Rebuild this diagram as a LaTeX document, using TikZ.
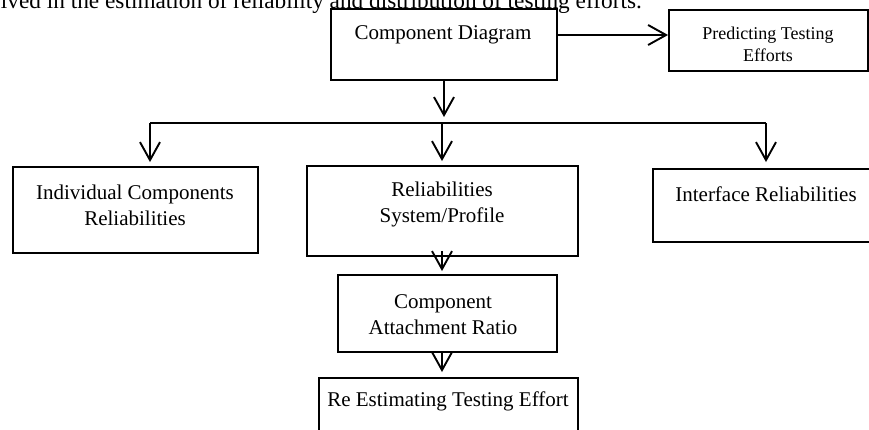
\documentclass[tikz,border=0pt]{standalone}
\usepackage{fontspec}
\setmainfont{Liberation Serif}
\usetikzlibrary{arrows.meta}
\begin{document}
\begin{tikzpicture}[x=1pt,y=-1pt,
  box/.style={draw, line width=1.9pt, inner sep=0pt},
  txt/.style={align=center, inner sep=0pt, font=\fontsize{21}{26}\selectfont},
  smalltxt/.style={align=center, inner sep=0pt, font=\fontsize{18}{22}\selectfont},
  arr/.style={line width=1.9pt, -{Straight Barb[length=18pt,width=20pt]}},
  conn/.style={line width=1.9pt}]
\clip (0,0) rectangle (869,429);
% partial page text at top
\node[anchor=base east, inner sep=0pt, font=\fontsize{23.3}{28}\selectfont] (pagetext) at (642,8)
  {involved in the estimation of reliability and distribution of testing efforts.};
% boxes
\node[box, minimum width=226pt, minimum height=71pt] (cd) at (444,44.5) {};
\node[box, minimum width=199pt, minimum height=61pt] (pte) at (768.5,40.5) {};
\node[box, minimum width=245pt, minimum height=86pt] (icr) at (135.5,210) {};
\node[box, minimum width=271pt, minimum height=90pt] (rsp) at (442.5,211) {};
\node[box, minimum width=226pt, minimum height=73pt] (ir) at (766,205.5) {};
\node[box, minimum width=219pt, minimum height=77pt] (car) at (447.5,313.5) {};
\node[box, minimum width=259pt, minimum height=72pt] (ree) at (448.5,414) {};
% texts
\node[txt] (cdtext) at (443,35) {Component Diagram};
\node[smalltxt] (ptetext) at (768,44) {Predicting Testing\\Efforts};
\node[txt] (icrtext) at (135,205) {Individual Components\\Reliabilities};
\node[txt] (rsptext) at (442,204) {Reliabilities\\System/Profile};
\node[txt] (irtext) at (766,194) {Interface Reliabilities};
\node[txt] (cartext) at (443,315) {Component\\Attachment Ratio};
\node[txt] (reetext) at (448,401) {Re Estimating Testing Effort};
% bus coordinates
\coordinate (cdtip) at (444,117);
\coordinate (busL) at (150,123);
\coordinate (busM) at (442,123);
\coordinate (busR) at (766,123);
% connectors
\draw[arr] (cd.east |- 0,35) -- (pte.west |- 0,35);
\draw[arr] (cd.south) -- (cdtip);
\draw[conn] (busL) -- (busR);
\draw[arr, shorten >=4pt] (busL) -- (busL |- icr.north);
\draw[arr, shorten >=4pt] (busM) -- (busM |- rsp.north);
\draw[arr, shorten >=6pt] (busR) -- (busR |- ir.north);
\draw[arr, shorten >=3pt] ([yshift=6pt]busM |- rsp.south) -- (busM |- car.north);
\draw[arr, shorten >=5pt] (busM |- car.south) -- (busM |- ree.north);
\end{tikzpicture}
\end{document}
